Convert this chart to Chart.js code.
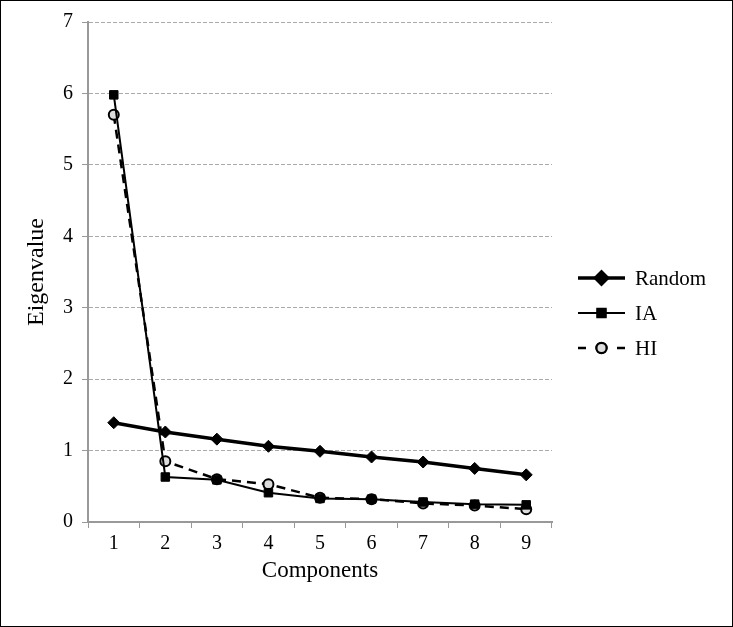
<!DOCTYPE html>
<html lang="en">
<head>
    <meta charset="UTF-8">
    <title>Eigenvalue scree plot</title>
    <style>
        body {
    margin: 0;
    background: #fff;
}

.chart-box {
    width: 733px;
    height: 627px;
    position: relative;
}
    </style>
    <script src="https://cdn.jsdelivr.net/npm/chart.js"></script>
</head>
<body>

    <div class="chart-box">
        <canvas id="screeChart" width="733" height="627"></canvas>
    </div>

    <script>
// data
const components = ['1', '2', '3', '4', '5', '6', '7', '8', '9'];
const randomValues = [1.39, 1.26, 1.16, 1.06, 0.99, 0.91, 0.84, 0.75, 0.66];
const iaValues = [5.98, 0.63, 0.59, 0.41, 0.33, 0.32, 0.28, 0.25, 0.24];
const hiValues = [5.70, 0.85, 0.60, 0.53, 0.34, 0.32, 0.26, 0.23, 0.18];
const yTicks = [0, 1, 2, 3, 4, 5, 6, 7];

const serif = "'Liberation Serif', 'DejaVu Serif', serif";

// legend drawn by hand so each entry shows line + marker
const sideLegend = {
    id: 'sideLegend',
    afterDraw(chart) {
        const ctx = chart.ctx;
        const x0 = 578, x1 = 625, tx = 635;
        const rows = [278, 313, 348];
        ctx.save();
        chart.data.datasets.forEach(function (ds, i) {
            const y = rows[i];
            ctx.strokeStyle = '#000';
            ctx.lineWidth = ds.borderWidth;
            ctx.beginPath();
            if (ds.borderDash) {
                ctx.moveTo(x0, y); ctx.lineTo(x0 + 8, y);
                ctx.moveTo(x1 - 8, y); ctx.lineTo(x1, y);
            } else {
                ctx.moveTo(x0, y); ctx.lineTo(x1, y);
            }
            ctx.stroke();
            Chart.helpers.drawPoint(ctx, {
                pointStyle: ds.pointStyle,
                radius: ds.pointRadius,
                borderWidth: ds.pointBorderWidth
            }, (x0 + x1) / 2, y);
            ctx.fillStyle = ds.pointBackgroundColor;
            ctx.lineWidth = ds.pointBorderWidth;
            ctx.fill();
            ctx.stroke();
            ctx.fillStyle = '#000';
            ctx.font = "21px " + serif;
            ctx.textBaseline = 'middle';
            ctx.fillText(ds.label, tx, y + 1);
        });
        // outer frame
        ctx.strokeStyle = '#000';
        ctx.lineWidth = 1;
        ctx.strokeRect(0.5, 0.5, chart.width - 1, chart.height - 1);
        ctx.restore();
    }
};

const ctx = document.getElementById('screeChart').getContext('2d');

new Chart(ctx, {
    type: 'line',
    data: {
        labels: components,
        datasets: [
            {
                label: 'Random',
                data: randomValues,
                borderColor: '#000',
                borderWidth: 3.5,
                pointStyle: 'rectRot',
                pointRadius: 6,
                pointBackgroundColor: '#000',
                pointBorderColor: '#000',
                pointBorderWidth: 1,
                tension: 0
            },
            {
                label: 'IA',
                data: iaValues,
                borderColor: '#000',
                borderWidth: 2,
                pointStyle: 'rect',
                pointRadius: 6,
                pointBackgroundColor: '#000',
                pointBorderColor: '#000',
                pointBorderWidth: 1,
                tension: 0
            },
            {
                label: 'HI',
                data: hiValues,
                borderColor: '#000',
                borderWidth: 2.5,
                borderDash: [9, 6],
                pointStyle: 'circle',
                pointRadius: 5,
                pointBackgroundColor: '#ddd',
                pointBorderColor: '#000',
                pointBorderWidth: 2,
                tension: 0
            }
        ]
    },
    options: {
        responsive: false,
        animation: false,
        layout: {
            padding: { top: 22, right: 181, bottom: 30, left: 10 }
        },
        plugins: {
            legend: { display: false },
            tooltip: { enabled: false }
        },
        scales: {
            x: {
                offset: true,
                grid: {
                    offset: true,
                    drawOnChartArea: false,
                    drawTicks: true,
                    tickLength: 6,
                    color: '#999'
                },
                border: { color: '#999', width: 2 },
                ticks: {
                    color: '#000',
                    font: { family: serif, size: 20 },
                    padding: 4
                },
                title: {
                    display: true,
                    text: 'Components',
                    color: '#000',
                    font: { family: serif, size: 23 },
                    padding: { top: 4, bottom: 12 }
                },
                afterFit(scale) { scale.height = 75; }
            },
            y: {
                min: 0,
                max: 7,
                afterBuildTicks(scale) {
                    scale.ticks = yTicks.map(v => ({ value: v }));
                },
                grid: {
                    color: '#aaa',
                    tickColor: '#999',
                    tickLength: 6,
                    tickBorderDash: [],
                    lineWidth: 1
                },
                border: { color: '#999', width: 2, dash: [4, 2] },
                ticks: {
                    color: '#000',
                    font: { family: serif, size: 20 },
                    padding: 9
                },
                title: {
                    display: true,
                    text: 'Eigenvalue',
                    color: '#000',
                    font: { family: serif, size: 24 },
                    padding: { top: 12, bottom: 0 }
                },
                afterFit(scale) { scale.width = 78; }
            }
        }
    },
    plugins: [sideLegend]
});
    </script>
</body>
</html>
